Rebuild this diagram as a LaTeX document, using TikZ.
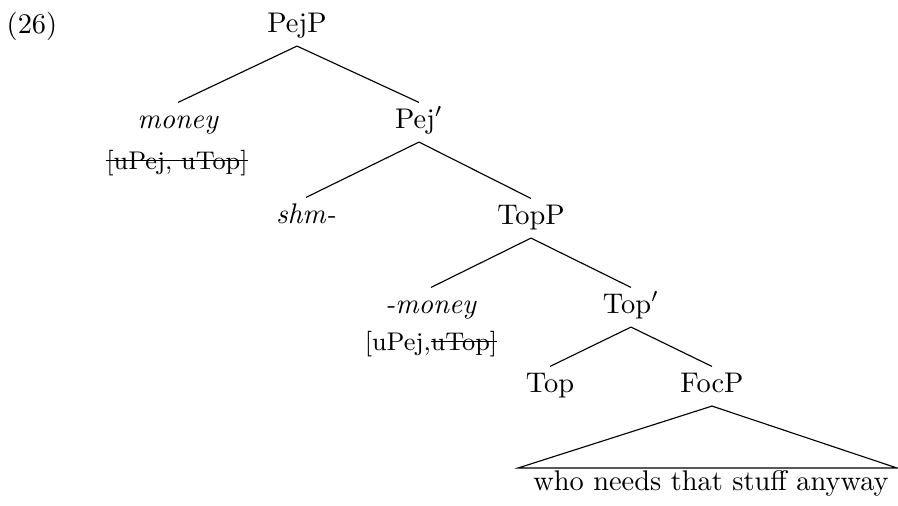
\documentclass[tikz,border=0pt]{standalone}
\newcommand\strk[1]{\begingroup\setbox0=\hbox{#1}\rlap{\rule[0.7ex]{\wd0}{0.4pt}}\box0\endgroup}
\begin{document}
\begin{tikzpicture}[x=0.352pt,y=-0.352pt,
  lab/.style={anchor=base,text height=5.95pt,text depth=1.9pt,inner sep=2.85pt},
  feat/.style={anchor=base,inner sep=0pt,font=\small},
  branch/.style={line width=0.4pt}]
\useasboundingbox (0,0) rectangle (898,505);
\node[anchor=base,inner sep=0pt] (ex) at (32,33) {(26)};
\node[lab] (pejp) at (297,32) {PejP};
\node[lab] (money) at (178,128) {\textit{money}};
\node[feat] (f1) at (177,169) {\strk{[uPej, uTop]}};
\node[lab] (pejbar) at (419,128) {Pej$'$};
\node[lab] (shm) at (306,223) {\textit{shm-}};
\node[lab] (topp) at (531,224) {TopP};
\node[lab] (money2) at (431,313) {\textit{-money}};
\node[feat] (f2) at (431,350) {[uPej,\strk{uTop]}};
\node[lab] (topbar) at (631,313) {Top$'$};
\node[lab] (top) at (550,392) {Top};
\node[lab] (focp) at (712,392) {FocP};
\node[lab] (yield) at (711,490) {who needs that stuff anyway};
\coordinate (bl) at (518,468);
\coordinate (br) at (897,468);
\draw[branch] (pejp.south) -- (money.north);
\draw[branch] (pejp.south) -- (pejbar.north);
\draw[branch] (pejbar.south) -- (shm.north);
\draw[branch] (pejbar.south) -- (topp.north);
\draw[branch] (topp.south) -- (money2.north);
\draw[branch] (topp.south) -- (topbar.north);
\draw[branch] (topbar.south) -- (top.north);
\draw[branch] (topbar.south) -- (focp.north);
\draw[branch] (focp.south) -- (bl) -- (br) -- cycle;
\end{tikzpicture}
\end{document}
